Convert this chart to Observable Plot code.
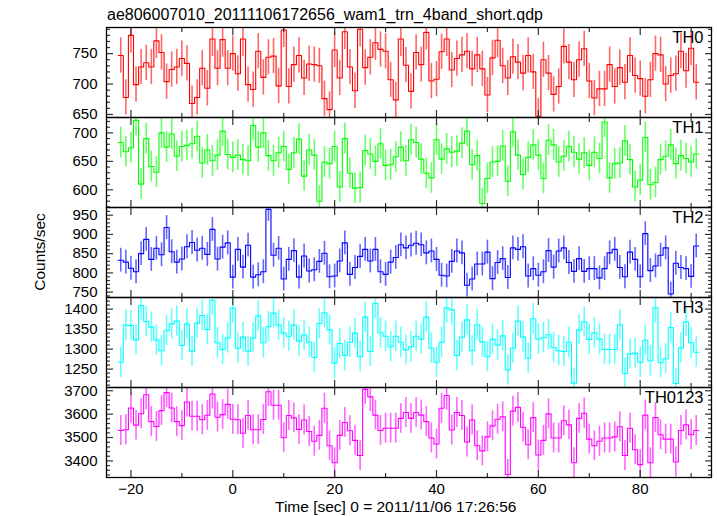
<!DOCTYPE html>
<html>
<head>
<meta charset="utf-8">
<script src="https://cdn.jsdelivr.net/npm/d3@7"></script>
<script src="https://cdn.jsdelivr.net/npm/@observablehq/plot@0.6"></script>
<style>
  body { margin: 0; background: #fff; font-family: "Liberation Sans", Arial, Helvetica, sans-serif; }
  #chart { position: relative; width: 717px; height: 516px; overflow: hidden; background: #fff; }
  #chart svg { position: absolute; left: 0; }
  .title { position: absolute; left: 107px; top: 7px; font-size: 16px; line-height: 16px; white-space: nowrap; color: #000; }
  .xlabel { position: absolute; left: 275px; top: 499px; font-size: 15.5px; line-height: 15.5px; white-space: nowrap; color: #000; }
  .ylabel { position: absolute; left: -20px; top: 244px; width: 120px; text-align: center; font-size: 15.5px; line-height: 16px; transform: rotate(-90deg); transform-origin: 50% 50%; white-space: nowrap; color: #000; }
</style>
</head>
<body>
<div id="chart">
  <div class="title">ae806007010_20111106172656_wam1_trn_4band_short.qdp</div>
  <div class="ylabel">Counts/sec</div>
  <div class="xlabel">Time [sec] 0 = 2011/11/06 17:26:56</div>
</div>
<script>
// ---- bin centres (sec) ----
const times = [-22,-21,-20,-19,-18,-17,-16,-15,-14,-13,-12,-11,-10,-9,-8,-7,-6,-5,-4,-3,-2,-1,
  0,1,2,3,4,5,6,7,8,9,10,11,12,13,14,15,16,17,18,19,20,21,22,23,24,25,26,27,28,29,30,31,32,33,34,35,
  36,37,38,39,40,41,42,43,44,45,46,47,48,49,50,51,52,53,54,55,56,57,58,59,60,61,62,63,64,65,66,67,68,69,
  70,71,72,73,74,75,76,77,78,79,80,81,82,83,84,85,86,87,88,89,90,91];

// ---- series (counts/sec) ----
const th0 = [747,678,780,699,728,735,728,771,752,704,
  724,728,742,734,668,678,726,693,774,726,
  773,726,750,717,774,699,691,754,711,744,
  746,697,789,696,732,747,710,733,732,730,
  676,658,756,710,786,728,689,790,727,744,
  768,757,754,707,674,
  774,731,688,752,732,785,705,708,753,774,723,742,748,754,725,748,725,682,743,772,
  730,710,745,736,718,747,720,647,740,718,683,696,762,736,707,740,758,705,677,692,
  692,732,696,727,703,747,714,709,680,707,750,748,700,714,717,754,722,759,703];

const th1 = [683,667,674,722,610,690,641,631,700,675,698,659,676,678,681,694,647,670,651,661,
  703,662,657,661,653,651,713,675,700,660,651,665,676,636,665,689,
  624,670,661,580,649,646,676,605,690,629,603,604,669,663,650,681,643,644,658,675,
  651,688,683,654,629,621,688,654,672,666,668,682,703,644,660,576,620,649,650,677,
  615,702,661,627,657,679,661,620,687,679,649,659,676,666,654,665,643,666,655,719,
  621,646,647,686,653,605,617,692,609,613,653,659,679,646,660,655,649,663];

const th2 = [833,828,812,803,850,887,835,864,847,918,855,828,836,868,879,859,864,848,913,836,
  867,878,789,861,815,872,789,795,803,965,846,864,784,835,858,789,
  844,805,808,830,851,790,792,831,878,796,814,843,861,831,861,803,796,828,840,873,
  865,872,877,873,852,857,835,794,792,830,857,852,768,784,823,823,854,785,827,837,
  788,865,861,868,792,811,794,803,858,815,857,865,827,804,837,804,811,811,787,811,
  852,861,814,790,854,835,790,902,806,818,846,865,745,825,814,811,791,870];

const th3 = [1267,1360,1359,1323,1409,1369,1355,1323,1296,1346,1363,1370,1309,1363,1295,1365,1384,1349,1422,1316,
  1299,1328,1402,1302,1330,1295,1328,1383,1316,1356,1390,1360,1340,1332,1360,1320,
  1335,1317,1279,1364,1391,1348,1265,1314,1284,1317,1340,1281,1380,1294,1414,1341,1332,1306,1332,1317,
  1298,1306,1332,1325,1380,1302,1267,1317,1403,1398,1284,1330,1373,1296,1361,1318,1281,1325,1310,1333,
  1248,1302,1370,1330,1277,1376,1325,1329,1336,1304,1296,1294,1317,1215,1348,1368,1324,1341,1325,1299,
  1299,1299,1361,1239,1288,1290,1267,1322,1271,1403,1266,1276,1354,1214,1303,1368,1316,1292];

const th0123 = [3530,3533,3626,3553,3602,3683,3568,3547,3615,3692,3626,3568,3551,3652,3591,3591,3576,3595,3686,3587,
  3598,3642,3578,3576,3518,3594,3533,3533,3577,3696,3638,3638,3499,3594,3584,3535,
  3575,3526,3484,3509,3625,3465,3392,3509,3564,3529,3488,3423,3706,3674,3596,3530,3540,3540,3540,3582,
  3607,3582,3607,3596,3568,3498,3472,3625,3680,3532,3607,3594,3481,3575,3465,3443,3503,3550,3578,3589,
  3342,3613,3629,3544,3469,3585,3425,3488,3601,3498,3498,3572,3554,3392,3582,3604,3493,3465,3484,3498,
  3498,3503,3546,3423,3540,3448,3384,3596,3392,3585,3512,3493,3493,3395,3530,3554,3512,3530];

// error half-widths per panel (counts/sec)
const errors = [29, 27, 31, 38, 64];
const names = ["TH0", "TH1", "TH2", "TH3", "TH0123"];
const colors = ["#ff0000", "#00ff00", "#0000ff", "#00ffff", "#ff00ff"];

// ---- tick labels ----
const xTicks = [-20, 0, 20, 40, 60, 80];
const xMinorTicks = [-10, 10, 30, 50, 70, 90];
const yTicks = [
  [650, 700, 750],
  [600, 650, 700],
  [750, 800, 850, 900, 950],
  [1250, 1300, 1350, 1400],
  [3400, 3500, 3600, 3700]
];
const yMinorStep = [10, 10, 10, 10, 20];
const yDomains = [[645, 793], [569, 727], [736, 970], [1204, 1429], [3329, 3714]];
const xDomain = [-24.8, 94];

const seriesList = [th0, th1, th2, th3, th0123];
const panelTops = [27, 117, 207, 297, 387];
const PH = 90;

const chart = document.getElementById("chart");
const font = "'Liberation Sans', Arial, Helvetica, sans-serif";

seriesList.forEach((vals, i) => {
  const last = i === seriesList.length - 1;
  const data = times.map((t, j) => ({t, v: vals[j]}));
  const edges = data.map(d => ({t: d.t - 0.5, v: d.v}));
  edges.push({t: data[data.length - 1].t + 0.5, v: data[data.length - 1].v});
  const dom = yDomains[i];
  const step = yMinorStep[i];
  const minor = d3.range(Math.ceil(dom[0] / step) * step, dom[1], step).filter(v => !yTicks[i].includes(v));
  const err = errors[i];
  const tickStroke = "#333";
  const svg = Plot.plot({
    width: 717,
    height: PH + (last ? 40 : 0),
    marginLeft: 106, marginRight: 6, marginTop: 0, marginBottom: last ? 40 : 0,
    x: {domain: xDomain, axis: null},
    y: {domain: dom, axis: null},
    style: {background: "transparent", overflow: "visible", fontSize: "15px", fontFamily: font, color: "#000"},
    marks: [
      Plot.ruleX(data, {x: "t", y1: d => d.v - err, y2: d => d.v + err, stroke: colors[i], strokeOpacity: 0.6, strokeWidth: 1.6, clip: true}),
      Plot.line(edges, {x: "t", y: "v", curve: "step-after", stroke: colors[i], strokeWidth: 1.1, clip: true}),
      Plot.axisY(yTicks[i], {anchor: "left", tickSize: 0, tickPadding: 9, label: null, tickFormat: d => String(d)}),
      Plot.axisY(yTicks[i], {anchor: "left", tickSize: -7, fill: "none", label: null, stroke: tickStroke, strokeWidth: 1.2}),
      Plot.axisY(minor, {anchor: "left", tickSize: -4, fill: "none", label: null, stroke: tickStroke, strokeWidth: 1.2}),
      Plot.axisY(yTicks[i], {anchor: "right", tickSize: -7, fill: "none", label: null, stroke: tickStroke, strokeWidth: 1.2}),
      Plot.axisY(minor, {anchor: "right", tickSize: -4, fill: "none", label: null, stroke: tickStroke, strokeWidth: 1.2}),
      Plot.axisX(xTicks, {anchor: "top", tickSize: -7, fill: "none", label: null, stroke: tickStroke, strokeWidth: 1.2}),
      Plot.axisX(xMinorTicks, {anchor: "top", tickSize: -4, fill: "none", label: null, stroke: tickStroke, strokeWidth: 1.2}),
      Plot.axisX(xTicks, {anchor: "bottom", tickSize: -7, fill: "none", label: null, stroke: tickStroke, strokeWidth: 1.2}),
      Plot.axisX(xMinorTicks, {anchor: "bottom", tickSize: -4, fill: "none", label: null, stroke: tickStroke, strokeWidth: 1.2}),
      last ? Plot.axisX(xTicks, {anchor: "bottom", tickSize: 0, tickPadding: 6, label: null}) : null,
      Plot.frame({stroke: "#000", strokeWidth: 1.3}),
      Plot.text([names[i]], {frameAnchor: "top-right", text: d => d, dx: -8, dy: 4, lineAnchor: "top", fontSize: 16.5, fill: "#000"})
    ]
  });
  svg.style.top = panelTops[i] + "px";
  chart.appendChild(svg);
});
</script>
</body>
</html>
